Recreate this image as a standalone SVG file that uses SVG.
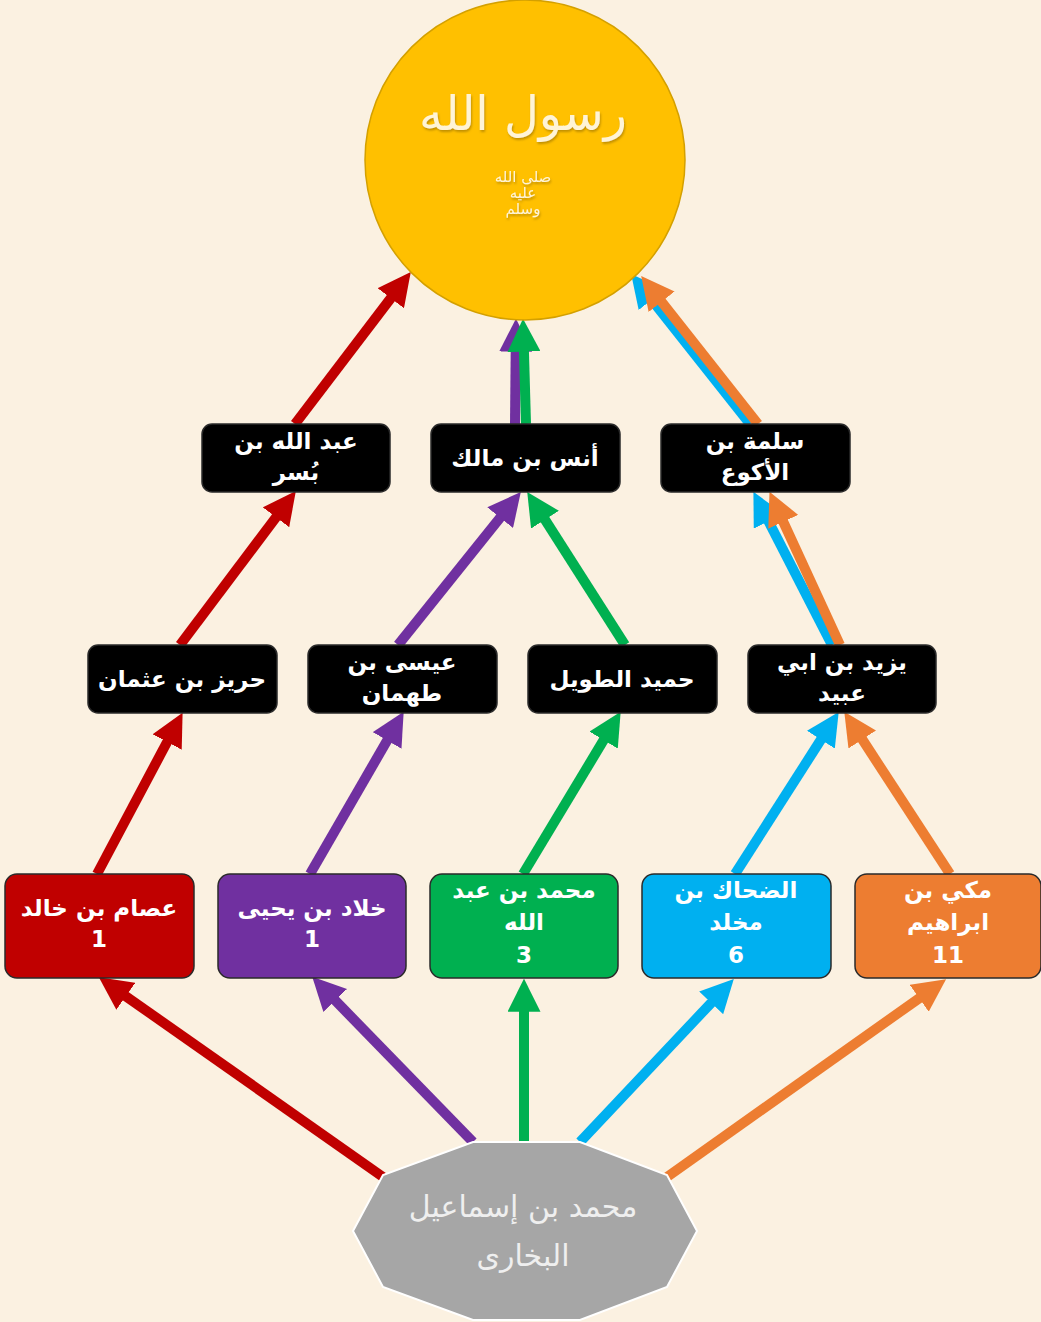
<svg xmlns="http://www.w3.org/2000/svg" width="1041" height="1322" viewBox="0 0 1041 1322">
<defs>
<style>
.bg{fill:#FBF1E1}
.box{stroke:#2a2a2a;stroke-width:1.5}
.blk{fill:#000000}
.t{font-family:"DejaVu Sans","Noto Sans",sans-serif;font-weight:bold;font-size:23px;fill:#FFFFFF;text-anchor:middle}
.cal{font-family:"DejaVu Sans","Noto Sans",sans-serif;text-anchor:middle}
.c{fill:none;stroke-width:10;stroke-linecap:butt}
.red{stroke:#C00000}.pur{stroke:#7030A0}.grn{stroke:#00B050}.blu{stroke:#00B0F0}.org{stroke:#ED7D31}
</style>
<marker id="aR" viewBox="0 0 10 10" refX="0.5" refY="5" markerWidth="3.3" markerHeight="3.3" orient="auto"><path d="M0,0 L10,5 L0,10 z" fill="#C00000"/></marker>
<marker id="aP" viewBox="0 0 10 10" refX="0.5" refY="5" markerWidth="3.3" markerHeight="3.3" orient="auto"><path d="M0,0 L10,5 L0,10 z" fill="#7030A0"/></marker>
<marker id="aG" viewBox="0 0 10 10" refX="0.5" refY="5" markerWidth="3.3" markerHeight="3.3" orient="auto"><path d="M0,0 L10,5 L0,10 z" fill="#00B050"/></marker>
<marker id="aB" viewBox="0 0 10 10" refX="0.5" refY="5" markerWidth="3.3" markerHeight="3.3" orient="auto"><path d="M0,0 L10,5 L0,10 z" fill="#00B0F0"/></marker>
<marker id="aO" viewBox="0 0 10 10" refX="0.5" refY="5" markerWidth="3.3" markerHeight="3.3" orient="auto"><path d="M0,0 L10,5 L0,10 z" fill="#ED7D31"/></marker>
<filter id="sh" x="-10%" y="-10%" width="120%" height="130%"><feDropShadow dx="1" dy="2" stdDeviation="1" flood-color="#9a7000" flood-opacity="0.6"/></filter>
</defs>
<rect class="bg" x="0" y="0" width="1041" height="1322"/>

<g id="connectors">
<path class="c red" d="M383,1177 L124.5,995.3" marker-end="url(#aR)"/>
<path class="c red" d="M97,874 L167.9,740.5" marker-end="url(#aR)"/>
<path class="c red" d="M180,645 L277,516" marker-end="url(#aR)"/>
<path class="c red" d="M295,424 L391.8,296.9" marker-end="url(#aR)"/>
<path class="c pur" d="M473,1142 L334.1,999.3" marker-end="url(#aP)"/>
<path class="c pur" d="M310,874 L388,739" marker-end="url(#aP)"/>
<path class="c pur" d="M398,645 L501.2,516.4" marker-end="url(#aP)"/>
<path class="c pur" d="M515,424 L515.7,350" marker-end="url(#aP)"/>
<path class="c grn" d="M524,1142 L524,1010" marker-end="url(#aG)"/>
<path class="c grn" d="M523,874 L604.5,738.7" marker-end="url(#aG)"/>
<path class="c grn" d="M625,645 L544.1,518.3" marker-end="url(#aG)"/>
<path class="c grn" d="M526,424 L523.9,350" marker-end="url(#aG)"/>
<path class="c blu" d="M580,1142 L712.3,1001.7" marker-end="url(#aB)"/>
<path class="c blu" d="M735,874 L821.8,738.3" marker-end="url(#aB)"/>
<path class="c blu" d="M832,645 L767.7,519.7" marker-end="url(#aB)"/>
<path class="c blu" d="M750,424 L650.6,298.5" marker-end="url(#aB)"/>
<path class="c org" d="M667,1177 L920.5,997.3" marker-end="url(#aO)"/>
<path class="c org" d="M950,874 L861.4,738.1" marker-end="url(#aO)"/>
<path class="c org" d="M840,645 L782.6,520.3" marker-end="url(#aO)"/>
<path class="c org" d="M758,424 L660.6,300.5" marker-end="url(#aO)"/>
</g>

<g id="prophet">
<circle cx="525" cy="160" r="160" fill="#FFC000" stroke="#D4A000" stroke-width="1.5"/>
<text class="cal" x="523" y="130" font-size="48" fill="#FFF4D6" filter="url(#sh)">رسول الله</text>
<text class="cal" x="523" y="182" font-size="15" fill="#FFF4D6" filter="url(#sh)">صلى الله</text>
<text class="cal" x="523" y="198" font-size="15" fill="#FFF4D6" filter="url(#sh)">عليه</text>
<text class="cal" x="523" y="214" font-size="15" fill="#FFF4D6" filter="url(#sh)">وسلم</text>
</g>

<g id="n-abdullah-busr">
<rect class="box blk" x="202" y="424" width="188" height="68" rx="10"/>
<text class="t" x="296" y="449">عبد الله بن</text>
<text class="t" x="296" y="480">بُسر</text>
</g>
<g id="n-anas">
<rect class="box blk" x="431" y="424" width="189" height="68" rx="10"/>
<text class="t" x="525" y="466">أنس بن مالك</text>
</g>
<g id="n-salama">
<rect class="box blk" x="661" y="424" width="189" height="68" rx="10"/>
<text class="t" x="755" y="449">سلمة بن</text>
<text class="t" x="755" y="480">الأكوع</text>
</g>

<g id="n-hariz">
<rect class="box blk" x="88" y="645" width="189" height="68" rx="10"/>
<text class="t" x="182" y="687">حريز بن عثمان</text>
</g>
<g id="n-isa">
<rect class="box blk" x="308" y="645" width="189" height="68" rx="10"/>
<text class="t" x="402" y="670">عيسى بن</text>
<text class="t" x="402" y="701">طهمان</text>
</g>
<g id="n-humaid">
<rect class="box blk" x="528" y="645" width="189" height="68" rx="10"/>
<text class="t" x="622" y="687">حميد الطويل</text>
</g>
<g id="n-yazid">
<rect class="box blk" x="748" y="645" width="188" height="68" rx="10"/>
<text class="t" x="842" y="670">يزيد بن ابي</text>
<text class="t" x="842" y="701">عبيد</text>
</g>

<g id="n-isam">
<rect class="box" x="5" y="874" width="189" height="104" rx="12" fill="#C00000"/>
<text class="t" x="99" y="916">عصام بن خالد</text>
<text class="t" x="99" y="947">1</text>
</g>
<g id="n-khallad">
<rect class="box" x="218" y="874" width="188" height="104" rx="12" fill="#7030A0"/>
<text class="t" x="312" y="916">خلاد بن يحيى</text>
<text class="t" x="312" y="947">1</text>
</g>
<g id="n-muhammad-abdullah">
<rect class="box" x="430" y="874" width="188" height="104" rx="12" fill="#00B050"/>
<text class="t" x="524" y="898">محمد بن عبد</text>
<text class="t" x="524" y="930">الله</text>
<text class="t" x="524" y="963">3</text>
</g>
<g id="n-dahhak">
<rect class="box" x="642" y="874" width="189" height="104" rx="12" fill="#00B0F0" stroke="#1a8fc0"/>
<text class="t" x="736" y="898">الضحاك بن</text>
<text class="t" x="736" y="930">مخلد</text>
<text class="t" x="736" y="963">6</text>
</g>
<g id="n-makki">
<rect class="box" x="855" y="874" width="186" height="104" rx="12" fill="#ED7D31" stroke="#c9641f"/>
<text class="t" x="948" y="898">مكي بن</text>
<text class="t" x="948" y="930">ابراهيم</text>
<text class="t" x="948" y="963">11</text>
</g>

<g id="bukhari">
<polygon points="473,1142 580,1142 667,1175 697,1231 667,1287 580,1320 473,1320 383,1287 353,1231 383,1175" fill="#A6A6A6" stroke="#FFFFFF" stroke-width="2"/>
<text class="cal" x="523" y="1217" font-size="30" fill="#EFEFEF">محمد بن إسماعيل</text>
<text class="cal" x="523" y="1266" font-size="30" fill="#EFEFEF">البخارى</text>
</g>
</svg>
